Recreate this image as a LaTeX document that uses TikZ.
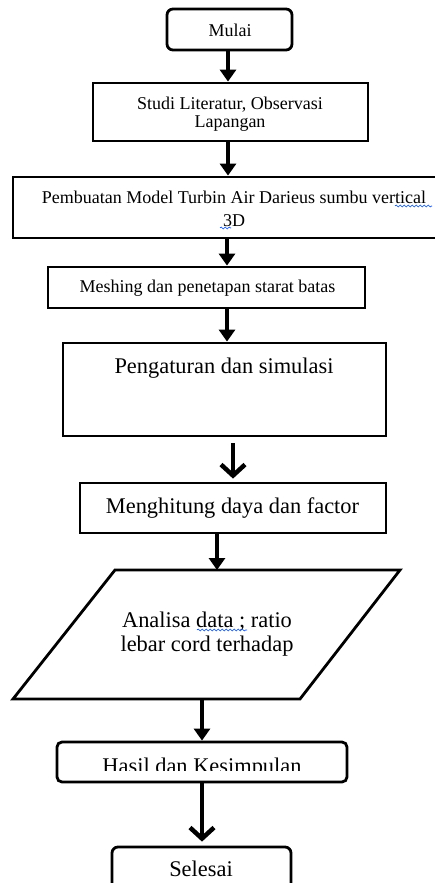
\documentclass[tikz,border=0pt]{standalone}
\usepackage{fontspec}
\setmainfont{Liberation Serif}
\usetikzlibrary{arrows.meta,decorations.pathmorphing}
\begin{document}
\begin{tikzpicture}[x=1pt,y=-1pt,
  box/.style={draw,line width=2.8pt,inner sep=0pt},
  rbox/.style={box,rounded corners=6pt},
  fs/.style={font=\fontsize{18}{19}\selectfont,inner sep=0pt},
  fl/.style={font=\fontsize{22.4}{24}\selectfont,inner sep=0pt},
  arr/.style={line width=4pt,-{Triangle[length=12pt,width=16pt]}},
  arrv/.style={line width=4.5pt,-{Straight Barb[length=11pt,width=24pt,line width=4.5pt]}},
  wavy/.style={draw=blue!70!cyan,line width=0.6pt,decorate,decoration={snake,amplitude=1pt,segment length=4pt}}]
\useasboundingbox (0,0) rectangle (435,883);
\fill[white] (0,0) rectangle (435,883);
% boxes
\node[rbox,minimum width=125pt,minimum height=41pt] (mulai) at (229.5,29.5) {};
\node[box,minimum width=275pt,minimum height=58pt] (studi) at (230.5,112) {};
\node[box,minimum width=424pt,minimum height=61pt] (pemb) at (225,207.5) {};
\node[box,minimum width=317pt,minimum height=41pt] (mesh) at (206.5,287.5) {};
\node[box,minimum width=323pt,minimum height=93pt] (peng) at (224.5,389.5) {};
\node[box,minimum width=306pt,minimum height=50pt] (meng) at (233,508) {};
\coordinate (pA) at (115,570);
\coordinate (pB) at (400,570);
\coordinate (pC) at (300,699);
\coordinate (pD) at (13,699);
\draw[line width=2.8pt,line join=miter] (pA) -- (pB) -- (pC) -- (pD) -- cycle;
\node[rbox,rounded corners=5pt,minimum width=290pt,minimum height=40pt] (hasil) at (202,762) {};
\node[rbox,minimum width=179pt,minimum height=60pt] (selesai) at (201.5,877) {};
% texts
\node[fs,anchor=base] (tmulai) at (230,37) {Mulai};
\node[fs,align=center,font=\fontsize{18}{18}\selectfont] (tstudi) at (230,114.5) {Studi Literatur, Observasi\\Lapangan};
\node[fs,align=center,font=\fontsize{18}{23}\selectfont] (tpemb) at (234,209) {Pembuatan Model Turbin Air Darieus sumbu vertical\\3D};
\node[fs,anchor=base] (tmesh) at (207.5,292) {Meshing dan penetapan starat batas};
\node[fl,anchor=base] (tpeng) at (224,373) {Pengaturan dan simulasi};
\node[fl,anchor=base] (tmeng) at (232.5,513) {Menghitung daya dan factor};
\node[fl,align=center,font=\fontsize{22.4}{24}\selectfont] (tanal) at (207,634) {Analisa data ; ratio\\lebar cord terhadap};
\begin{scope}
\clip (57,742) rectangle (347,770);
\node[fl,anchor=base] (thasil) at (202,773) {Hasil dan Kesimpulan};
\end{scope}
\node[fl,anchor=base] (tselesai) at (201,876) {Selesai};
% spell-check underlines
\draw[wavy] (395,206) -- (432,206);
\draw[wavy] (220,228) -- (231,228);
\draw[wavy] (197,630) -- (247,630);
% connectors
\coordinate (x1) at (228,0);
\coordinate (x4) at (227,0);
\coordinate (x5) at (233,0);
\coordinate (x6) at (217,0);
\coordinate (x7) at (202,0);
\draw[arr] (mulai.south -| x1) -- (studi.north -| x1);
\draw[arr] (studi.south -| x1) -- (pemb.north -| x1);
\draw[arr] (pemb.south -| x4) -- (mesh.north -| x4);
\draw[arr] (mesh.south -| x4) -- (peng.north -| x4);
\draw[arrv] ([yshift=-6pt]peng.south -| x5) -- ([yshift=3pt]meng.north -| x5);
\draw[arr] (meng.south -| x6) -- (pA -| x6);
\draw[arr] (pD -| x7) -- (hasil.north -| x7);
\draw[arrv] (hasil.south -| x7) -- ([yshift=4pt]selesai.north -| x7);
\end{tikzpicture}
\end{document}
